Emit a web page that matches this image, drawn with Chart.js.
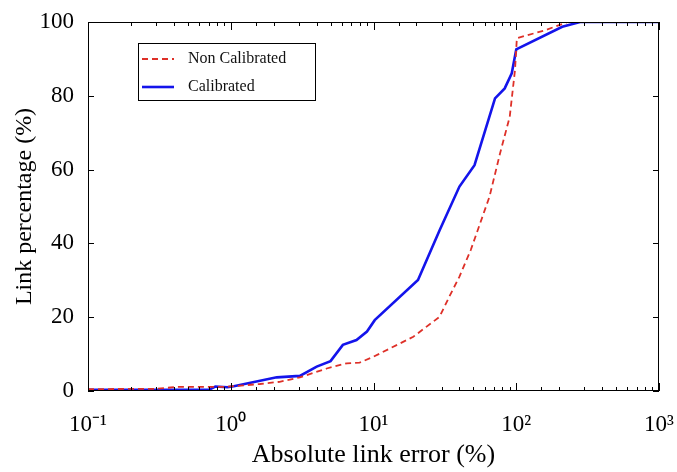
<!DOCTYPE html>
<html>
<head>
    <title>Absolute link error</title>
    <script src="https://cdn.jsdelivr.net/npm/chart.js"></script>
    <style>
        body { margin: 0; background: #fff; }
    </style>
</head>
<body>
    <div style="width:677px;height:472px;">
        <canvas id="cdfChart" width="677" height="472"></canvas>
    </div>

    <script>
        // 数据
        const seriesNames = ['Non Calibrated', 'Calibrated'];

        const nonCalX = [0.1, 0.3, 0.42, 0.9, 1.05, 1.6, 2.2, 3.05, 4.7, 6.5, 8.0, 10, 19, 29, 34, 40, 48, 65, 77, 90, 98, 101, 160, 230, 1000];
        const nonCalY = [0.5, 0.6, 1.1, 1.1, 1.3, 1.9, 2.5, 3.7, 6.1, 7.5, 7.7, 9.3, 14.7, 20.1, 25.6, 31, 38.2, 52.7, 64.4, 74.3, 87, 95.6, 97.8, 100, 100];

        const calX = [0.1, 0.7, 0.78, 0.95, 1.05, 2.1, 3.05, 4.0, 5.0, 6.1, 7.6, 9.0, 10.2, 20.5, 29, 40, 51, 71, 83, 93, 100, 210, 280, 1000];
        const calY = [0.3, 0.3, 1.2, 1.0, 1.3, 3.7, 4.1, 6.6, 8.1, 12.5, 13.8, 16.1, 19.2, 30.1, 43.5, 55.4, 61.2, 79.3, 82.0, 86.1, 92.6, 98.7, 100, 100];

        const yTicks = [0, 20, 40, 60, 80, 100];
        const xDecades = [-1, 0, 1, 2, 3];

        const supMap = { '-': '\u207B', '0': '\u2070', '1': '\u00B9', '2': '\u00B2', '3': '\u00B3' };
        const toSup = (n) => String(n).split('').map(c => supMap[c] || c).join('');

        const toPoints = (xs, ys) => xs.map((x, i) => ({ x: x, y: ys[i] }));

        const serif = 'Liberation Serif, Times New Roman, serif';

        // 边框 + 向内的刻度 + 图例
        const framePlugin = {
            id: 'frame',
            afterDraw(chart) {
                const ctx = chart.ctx;
                const a = chart.chartArea;
                const xs = chart.scales.x;
                const ys = chart.scales.y;
                ctx.save();
                ctx.strokeStyle = '#000';
                ctx.lineWidth = 1;
                ctx.strokeRect(a.left + 0.5, a.top + 0.5, a.right - a.left - 1, a.bottom - a.top - 1);

                ctx.beginPath();
                xs.ticks.forEach(t => {
                    const px = Math.round(xs.getPixelForValue(t.value)) + 0.5;
                    const e = Math.log10(t.value);
                    const len = Math.abs(e - Math.round(e)) < 1e-9 ? 8 : 4;
                    ctx.moveTo(px, a.bottom);
                    ctx.lineTo(px, a.bottom - len);
                    ctx.moveTo(px, a.top);
                    ctx.lineTo(px, a.top + len);
                });
                yTicks.forEach(v => {
                    const py = Math.round(ys.getPixelForValue(v)) + 0.5;
                    ctx.moveTo(a.left, py);
                    ctx.lineTo(a.left + 6, py);
                    ctx.moveTo(a.right, py);
                    ctx.lineTo(a.right - 6, py);
                });
                ctx.stroke();

                // 图例
                const bx = 138, by = 43, bw = 177, bh = 57;
                ctx.fillStyle = '#fff';
                ctx.fillRect(bx, by, bw, bh);
                ctx.strokeRect(bx + 0.5, by + 0.5, bw, bh);
                ctx.font = '16px ' + serif;
                ctx.textBaseline = 'middle';
                chart.data.datasets.forEach((ds, i) => {
                    const ly = by + 16 + i * 28;
                    ctx.beginPath();
                    ctx.strokeStyle = ds.borderColor;
                    ctx.lineWidth = ds.borderWidth;
                    ctx.setLineDash(ds.borderDash || []);
                    ctx.moveTo(bx + 4, ly);
                    ctx.lineTo(bx + 36, ly);
                    ctx.stroke();
                    ctx.setLineDash([]);
                    ctx.fillStyle = '#111';
                    ctx.fillText(ds.label, bx + 50, ly);
                });
                ctx.restore();
            }
        };

        function drawChart() {
            const ctx = document.getElementById('cdfChart').getContext('2d');
            const chart = new Chart(ctx, {
                type: 'line',
                data: {
                    datasets: [{
                        label: seriesNames[0],
                        data: toPoints(nonCalX, nonCalY),
                        borderColor: 'rgb(222, 48, 40)',
                        borderWidth: 1.8,
                        borderDash: [6, 4],
                        pointRadius: 0,
                        tension: 0,
                        fill: false
                    }, {
                        label: seriesNames[1],
                        data: toPoints(calX, calY),
                        borderColor: 'rgb(20, 20, 235)',
                        borderWidth: 2.6,
                        pointRadius: 0,
                        tension: 0,
                        fill: false
                    }]
                },
                options: {
                    responsive: false,
                    animation: false,
                    layout: { padding: { top: 22, right: 18, left: 0, bottom: 0 } },
                    plugins: {
                        legend: { display: false },
                        tooltip: { enabled: false }
                    },
                    scales: {
                        x: {
                            type: 'logarithmic',
                            min: 0.1,
                            max: 1000,
                            grid: { display: false },
                            border: { display: false },
                            afterFit: s => { s.height = 81; s.paddingLeft = 0; s.paddingRight = 0; },
                            ticks: {
                                autoSkip: false,
                                maxRotation: 0,
                                padding: 12,
                                color: '#000',
                                font: { family: serif, size: 23 },
                                callback: (v) => {
                                    const e = Math.log10(v);
                                    const r = Math.round(e);
                                    if (Math.abs(e - r) < 1e-9 && xDecades.includes(r)) return '10' + toSup(r);
                                    return '';
                                }
                            },
                            title: {
                                display: true,
                                text: 'Absolute link error (%)',
                                color: '#000',
                                font: { family: serif, size: 26 },
                                padding: { top: 0, bottom: 1 }
                            }
                        },
                        y: {
                            min: 0,
                            max: 100,
                            grid: { display: false },
                            border: { display: false },
                            afterFit: s => { s.width = 88; s.paddingTop = 0; s.paddingBottom = 0; },
                            ticks: {
                                stepSize: 20,
                                padding: 6,
                                color: '#000',
                                font: { family: serif, size: 23 }
                            },
                            title: {
                                display: true,
                                text: 'Link percentage (%)',
                                color: '#000',
                                font: { family: serif, size: 24 },
                                padding: { top: 10, bottom: 0 }
                            }
                        }
                    }
                },
                plugins: [framePlugin]
            });
        }

        drawChart();
    </script>
</body>
</html>
